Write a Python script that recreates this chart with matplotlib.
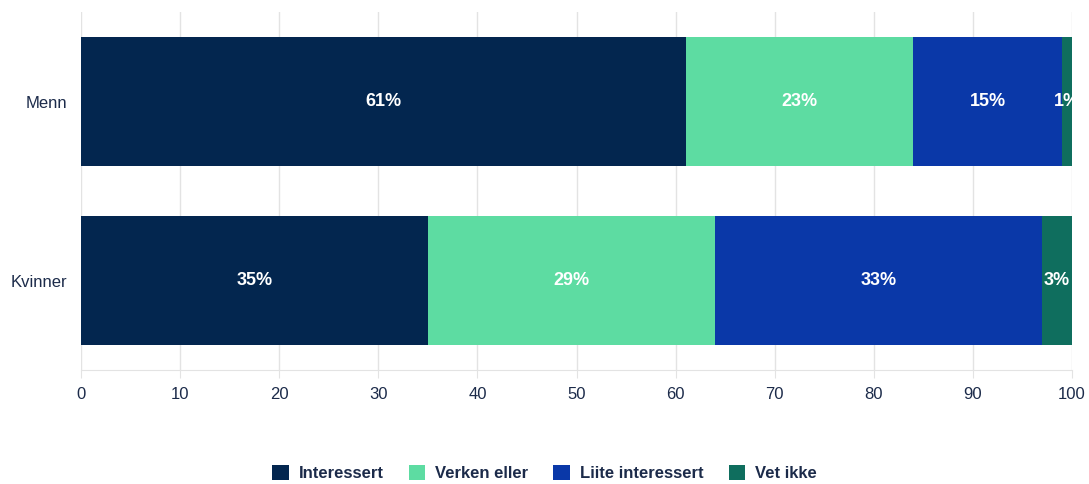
import numpy as np
import matplotlib.pyplot as plt

plt.rcParams['font.family'] = ['Liberation Sans', 'DejaVu Sans']

# Data
grupper = ["Menn", "Kvinner"]
kategorier = ["Interessert", "Verken eller", "Liite interessert", "Vet ikke"]
verdier = {
    "Interessert": [61, 35],
    "Verken eller": [23, 29],
    "Liite interessert": [15, 33],
    "Vet ikke": [1, 3],
}
farger = ["#03264f", "#5ddca2", "#0a38a8", "#0f6e5e"]
tekstfarge = "#1c2b4a"

fig = plt.figure(figsize=(10.89, 4.84), dpi=100)
ax = fig.add_axes([0.0744, 0.2355, 0.91, 0.7395])

y = np.arange(len(grupper))
venstre = np.zeros(len(grupper))
for kat, farge in zip(kategorier, farger):
    v = np.array(verdier[kat], dtype=float)
    ax.barh(y, v, left=venstre, height=0.72, color=farge, label=kat, zorder=2)
    for yi, vi, li in zip(y, v, venstre):
        ax.text(li + vi / 2, yi, f"{vi:.0f}%", ha="center", va="center",
                color="white", fontsize=13, fontweight="bold", zorder=3)
    venstre += v

ax.set_xlim(0, 100)
ax.set_ylim(1.5, -0.5)
ax.set_xticks(np.arange(0, 101, 10))
ax.set_yticks(y)
ax.set_yticklabels(grupper)
ax.grid(axis="x", color="#e3e3e3", linewidth=1, zorder=0)
for s in ["top", "right", "left"]:
    ax.spines[s].set_visible(False)
ax.spines["bottom"].set_color("#e3e3e3")
ax.tick_params(axis="x", colors="#e3e3e3", length=6, labelcolor=tekstfarge,
               labelsize=12, pad=6)
ax.tick_params(axis="y", length=0, labelcolor=tekstfarge, labelsize=12, pad=10)

leg = fig.legend(loc="lower center", bbox_to_anchor=(0.5, -0.025), ncol=4,
                 frameon=False, handlelength=1.0, handleheight=1.0,
                 columnspacing=1.5, handletextpad=0.6,
                 prop={"size": 12, "weight": "bold"})
for t in leg.get_texts():
    t.set_color(tekstfarge)

fig.savefig("out.png", dpi=100)
